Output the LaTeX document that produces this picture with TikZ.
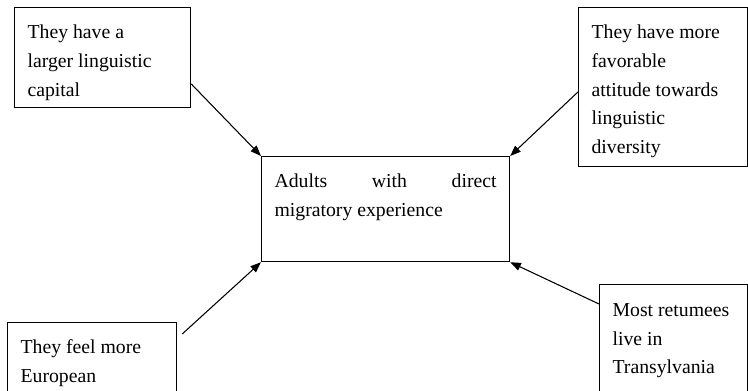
\documentclass[tikz,border=0pt]{standalone}
\usepackage{fontspec}
\setmainfont{Liberation Serif}
\usetikzlibrary{arrows.meta,calc}
\newcommand{\boxtxt}[4]{\parbox[c][#2][t]{#1}{\raggedright\fontsize{14.8pt}{21.5pt}\selectfont\rule{0pt}{#3}#4}}
\tikzset{
  box/.style={draw, line width=0.9pt, inner xsep=9.75pt, inner ysep=0pt, anchor=north west, rectangle},
  arr/.style={-{Triangle[length=8pt,width=6pt]}, line width=0.8pt}
}
\begin{document}
\begin{tikzpicture}[x=0.75pt,y=-0.75pt]
\useasboundingbox (0,0) rectangle (748,391);
\clip (0,0) rectangle (748,391);
\node[box] (A) at (14,7) {\boxtxt{112.5pt}{75pt}{23.5pt}{They have a\\larger linguistic\\capital}};
\node[box] (B) at (578,7) {\boxtxt{107.25pt}{119.25pt}{23.5pt}{They have more\\favorable\\attitude towards\\linguistic\\diversity}};
\node[box] (C) at (7,322) {\boxtxt{107.25pt}{75pt}{23.25pt}{They feel more\\European}};
\node[box] (D) at (599,284) {\boxtxt{91.5pt}{90pt}{24pt}{Most retumees\\live in\\Transylvania}};
\node[box] (E) at (261,156) {\boxtxt{166.5pt}{78.75pt}{23.25pt}{\hbox to\linewidth{Adults\hfill with\hfill direct}\\migratory experience}};
\draw[arr] ($(A.north east)!0.76!(A.south east)$) -- (E.north west);
\draw[arr] ($(B.north west)!0.53!(B.south west)$) -- (E.north east);
\draw[arr] ($(C.north east)+(5,12)$) -- (E.south west);
\draw[arr] ($(D.north west)+(0,20)$) -- (E.south east);
\end{tikzpicture}
\end{document}
